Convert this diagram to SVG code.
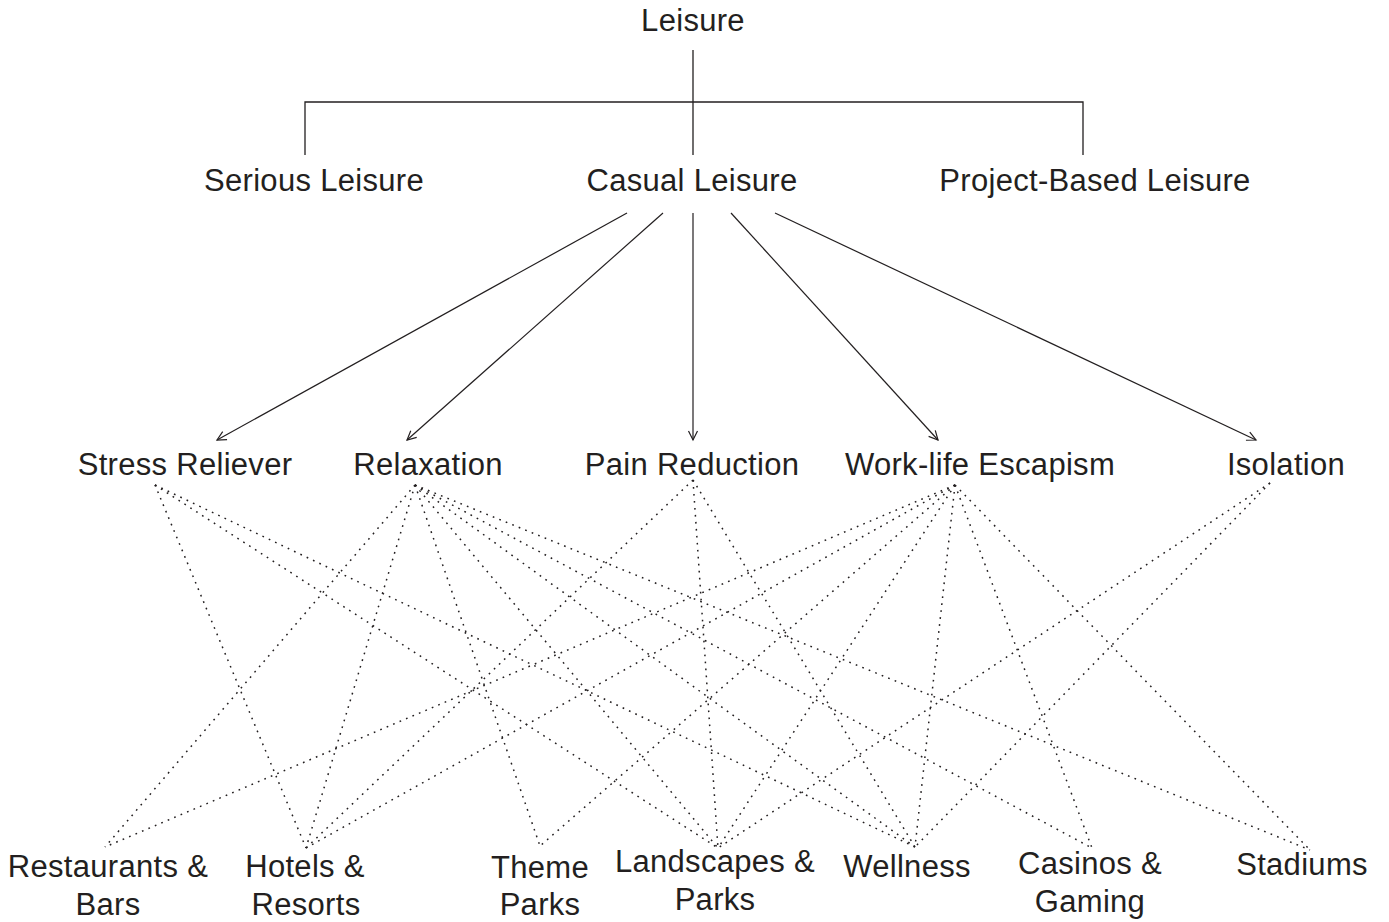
<svg xmlns="http://www.w3.org/2000/svg" width="1389" height="922" viewBox="0 0 1389 922">
<style>
  text { font-family: "Liberation Sans", Arial, sans-serif; font-size: 31px; letter-spacing: 0.3px; fill: #231f20; text-anchor: middle; }
  .solid { stroke: #231f20; stroke-width: 1.3; fill: none; }
  .arrow { stroke: #231f20; stroke-width: 1.2; fill: none; marker-end: url(#chev); }
  .dot { stroke: #231f20; stroke-width: 1.5; fill: none; stroke-dasharray: 1.7 5.3; }
</style>
<defs>
  <marker id="chev" markerUnits="userSpaceOnUse" markerWidth="14" markerHeight="14" viewBox="-12 -7 14 14" refX="0" refY="0" orient="auto">
    <path d="M-9,-4.5 L0,0 L-9,4.5" stroke="#231f20" stroke-width="1.2" fill="none"/>
  </marker>
</defs>
<rect width="1389" height="922" fill="#ffffff"/>

<g id="connectors">
  <g id="tree">
    <path class="solid" d="M693,50 V155"/>
    <path class="solid" d="M305,155 V102 H1083 V155"/>
  </g>
  <g id="arrows">
    <line class="arrow" x1="627" y1="213" x2="217" y2="440"/>
    <line class="arrow" x1="663" y1="213" x2="407" y2="440"/>
    <line class="arrow" x1="693" y1="213" x2="693" y2="440"/>
    <line class="arrow" x1="731" y1="213" x2="938" y2="440"/>
    <line class="arrow" x1="775" y1="213" x2="1256" y2="440"/>
  </g>
  <g id="dotted">
    <!-- Stress Reliever -->
    <line class="dot" x1="155" y1="485" x2="306" y2="848"/>
    <line class="dot" x1="155" y1="485" x2="718" y2="848"/>
    <line class="dot" x1="155" y1="485" x2="915" y2="847"/>
    <!-- Relaxation -->
    <line class="dot" x1="415" y1="485" x2="105" y2="847"/>
    <line class="dot" x1="415" y1="485" x2="306" y2="848"/>
    <line class="dot" x1="415" y1="485" x2="540" y2="846"/>
    <line class="dot" x1="415" y1="485" x2="718" y2="848"/>
    <line class="dot" x1="415" y1="485" x2="915" y2="847"/>
    <line class="dot" x1="415" y1="485" x2="1092" y2="848"/>
    <line class="dot" x1="415" y1="485" x2="1310" y2="850"/>
    <!-- Pain Reduction -->
    <line class="dot" x1="693" y1="480" x2="306" y2="848"/>
    <line class="dot" x1="693" y1="480" x2="718" y2="848"/>
    <line class="dot" x1="693" y1="480" x2="915" y2="847"/>
    <!-- Work-life Escapism -->
    <line class="dot" x1="955" y1="485" x2="105" y2="847"/>
    <line class="dot" x1="955" y1="485" x2="306" y2="848"/>
    <line class="dot" x1="955" y1="485" x2="540" y2="846"/>
    <line class="dot" x1="955" y1="485" x2="718" y2="848"/>
    <line class="dot" x1="955" y1="485" x2="915" y2="847"/>
    <line class="dot" x1="955" y1="485" x2="1092" y2="848"/>
    <line class="dot" x1="955" y1="485" x2="1310" y2="850"/>
    <!-- Isolation -->
    <line class="dot" x1="1270" y1="483" x2="718" y2="848"/>
    <line class="dot" x1="1270" y1="483" x2="915" y2="847"/>
  </g>
</g>

<g id="leisure"><text x="693" y="31">Leisure</text></g>
<g id="serious-leisure"><text x="314" y="191">Serious Leisure</text></g>
<g id="casual-leisure"><text x="692" y="191">Casual Leisure</text></g>
<g id="project-based-leisure"><text x="1095" y="191">Project-Based Leisure</text></g>

<g id="stress-reliever"><text x="185" y="475">Stress Reliever</text></g>
<g id="relaxation"><text x="428" y="475">Relaxation</text></g>
<g id="pain-reduction"><text x="692" y="475">Pain Reduction</text></g>
<g id="work-life-escapism"><text x="980" y="475">Work-life Escapism</text></g>
<g id="isolation"><text x="1286" y="475">Isolation</text></g>

<g id="restaurants-bars"><text x="108" y="877">Restaurants &amp;</text><text x="108" y="915">Bars</text></g>
<g id="hotels-resorts"><text x="305" y="877">Hotels &amp;</text><text x="306" y="915">Resorts</text></g>
<g id="theme-parks"><text x="540" y="878">Theme</text><text x="540" y="915">Parks</text></g>
<g id="landscapes-parks"><text x="715" y="872">Landscapes &amp;</text><text x="715" y="910">Parks</text></g>
<g id="wellness"><text x="907" y="877">Wellness</text></g>
<g id="casinos-gaming"><text x="1090" y="874">Casinos &amp;</text><text x="1090" y="912">Gaming</text></g>
<g id="stadiums"><text x="1302" y="875">Stadiums</text></g>
</svg>
